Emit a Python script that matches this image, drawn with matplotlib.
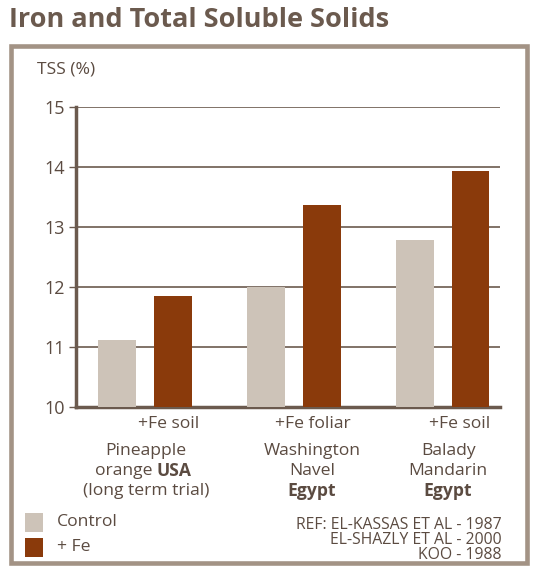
import matplotlib
matplotlib.use("Agg")
import matplotlib.pyplot as plt
from matplotlib.patches import Rectangle
from matplotlib.transforms import blended_transform_factory
import numpy as np

plt.rcParams['font.family'] = ['Open Sans', 'DejaVu Sans']

# ---- data ----
groups = ["Pineapple\norange USA\n(long term trial)", "Washington\nNavel\nEgypt", "Balady\nMandarin\nEgypt"]
treatments = ["+Fe soil", "+Fe foliar", "+Fe soil"]
control = [11.12, 12.0, 12.79]
fe = [11.85, 13.37, 13.93]
yticks = [10, 11, 12, 13, 14, 15]
series_names = ["Control", "+ Fe"]
refs = ["REF: EL-KASSAS ET AL - 1987", "EL-SHAZLY ET AL - 2000", "KOO - 1988"]

TXT = "#5b4b41"
AX = "#6b5a4e"
C_CTRL = "#cdc3b8"
C_FE = "#8a3a0b"
FRAME = "#a39385"
FS = 12.6

W, H = 533, 572
fig = plt.figure(figsize=(W / 100, H / 100), dpi=100)

# frame
fig.patches.append(Rectangle((10.5 / W, (H - 563) / H), 516 / W, 517 / H,
                             transform=fig.transFigure, fill=False,
                             edgecolor=FRAME, linewidth=3.3))
fig.text(9 / W, 1 - 20 / H, "Iron and Total Soluble Solids", fontsize=19.5,
         fontweight='bold', color="#6b5a4e", va='center', ha='left')

ax = fig.add_axes([76 / W, 165 / H, 424 / W, 300 / H])
x = np.arange(len(control))
off = 0.185
bw = 0.255
ax.bar(x - off, control, bw, color=C_CTRL, zorder=3)
ax.bar(x + off, fe, bw, color=C_FE, zorder=3)
ax.set_ylim(10, 15)
ax.set_xlim(-0.463, 2.383)
ax.set_yticks(yticks)
ax.set_yticklabels([str(t) for t in yticks], fontsize=13, color=TXT)
ax.yaxis.grid(True, color=AX, linewidth=1.2, zorder=1)
ax.set_xticks([])
for s in ['top', 'right']:
    ax.spines[s].set_visible(False)
ax.spines['left'].set_color(AX)
ax.spines['left'].set_linewidth(2.5)
ax.spines['bottom'].set_color(AX)
ax.spines['bottom'].set_linewidth(2.5)
ax.tick_params(axis='y', length=5, width=1, color=AX, pad=3)

fig.text(37 / W, 1 - 70 / H, "TSS (%)", fontsize=FS, color=TXT, va='center', ha='left')

tr = blended_transform_factory(ax.transData, fig.transFigure)
treat_off = [0.16, 0.13, 0.11]
for i, t in enumerate(treatments):
    ax.text(i + treat_off[i], 1 - 424 / H, t, transform=tr, fontsize=FS,
            color=TXT, ha='center', va='center')

grp_off = [0.007, 0.12, 0.035]
line_y = [451, 471, 491]
for i, g in enumerate(groups):
    lines = g.split("\n")
    for j, ln in enumerate(lines):
        yy = 1 - line_y[j] / H
        if ln.endswith(" USA"):
            ax.text(i + 0.08, yy, "orange ", transform=tr, fontsize=FS,
                    color=TXT, ha='right', va='center')
            ax.text(i + 0.08, yy, "USA", transform=tr, fontsize=FS,
                    color=TXT, ha='left', va='center', fontweight='bold')
        elif ln == "Egypt":
            ax.text(i + grp_off[i], yy, ln, transform=tr, fontsize=FS,
                    color=TXT, ha='center', va='center', fontweight='bold')
        else:
            ax.text(i + grp_off[i], yy, ln, transform=tr, fontsize=FS,
                    color=TXT, ha='center', va='center')

# legend
for k, (nm, col) in enumerate(zip(series_names, [C_CTRL, C_FE])):
    yc = 522 + k * 25
    fig.patches.append(Rectangle((25 / W, 1 - (yc + 10) / H), 18 / W, 19 / H,
                                 transform=fig.transFigure, facecolor=col, edgecolor='none'))
    fig.text(57 / W, 1 - yc / H, nm, fontsize=FS, color=TXT, va='center', ha='left')

for k, r in enumerate(refs):
    fig.text(502 / W, 1 - (525 + k * 15) / H, r, fontsize=11.3, color=TXT,
             va='center', ha='right')

fig.savefig("out.png", dpi=100, facecolor='white')
